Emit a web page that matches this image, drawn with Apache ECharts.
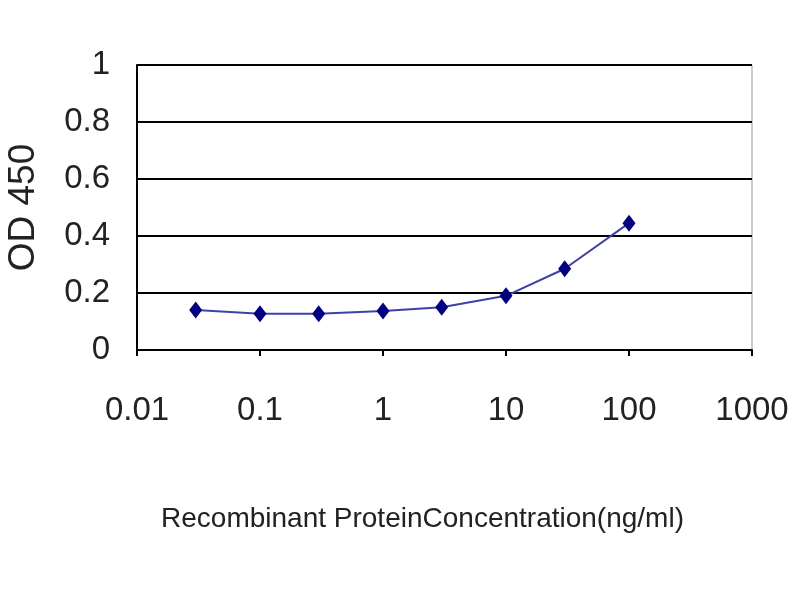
<!DOCTYPE html>
<html>
<head>
<meta charset="utf-8">
<script src="https://cdn.jsdelivr.net/npm/echarts@6/dist/echarts.min.js"></script>
<style>html,body{margin:0;padding:0;background:#fff}#c{width:800px;height:600px}</style>
</head>
<body>
<div id="c"></div>
<script>
const concentrations = [0.03, 0.1, 0.3, 1, 3, 10, 30, 100];
const od450 = [0.14, 0.127, 0.127, 0.137, 0.15, 0.19, 0.285, 0.445];
const yTicks = [0, 0.2, 0.4, 0.6, 0.8, 1];
const xTicks = ['0.01', '0.1', '1', '10', '100', '1000'];
const xTitle = 'Recombinant ProteinConcentration(ng/ml)';
const yTitle = 'OD 450';

const chart = echarts.init(document.getElementById('c'));
const font = 'Liberation Sans, Arial, sans-serif';
chart.setOption({
  animation: false,
  backgroundColor: '#fff',
  grid: { left: 137, right: 48, top: 65, bottom: 250, show: true, borderColor: '#999', borderWidth: 1, containLabel: false, outerBoundsMode: 'none' },
  xAxis: {
    type: 'log', logBase: 10, min: 0.01, max: 1000,
    name: xTitle, nameLocation: 'middle', nameGap: 155,
    nameTextStyle: { fontFamily: font, fontSize: 28, color: '#222', padding: [0, 44, 0, 0] },
    axisLine: { lineStyle: { color: '#000', width: 2 } },
    axisTick: { show: true, length: 6, lineStyle: { color: '#000', width: 2 } },
    axisLabel: {
      margin: 44, fontFamily: font, fontSize: 33, color: '#222',
      formatter: v => { const s = xTicks.find(t => Math.abs(Math.log10(parseFloat(t)) - Math.log10(v)) < 1e-6); return s || ''; }
    },
    splitLine: { show: false },
    minorTick: { show: false }
  },
  yAxis: {
    type: 'value', min: 0, max: 1, interval: 0.2,
    name: yTitle, nameLocation: 'middle', nameGap: 95, nameRotate: 90,
    nameTextStyle: { fontFamily: font, fontSize: 37, color: '#222' },
    axisLine: { show: true, lineStyle: { color: '#000', width: 2 } },
    axisTick: { show: false },
    axisLabel: {
      margin: 27, fontFamily: font, fontSize: 33, color: '#222',
      formatter: v => { const s = yTicks.find(t => Math.abs(t - v) < 1e-9); return s === undefined ? '' : String(s); }
    },
    splitLine: { show: true, lineStyle: { color: '#000', width: 2 } }
  },
  series: [{
    type: 'line',
    data: concentrations.map((c, i) => [c, od450[i]]),
    symbol: 'diamond', symbolSize: [13, 17],
    itemStyle: { color: '#000080' },
    lineStyle: { color: '#4040a8', width: 2 },
    z: 5
  }]
});
</script>
</body>
</html>
